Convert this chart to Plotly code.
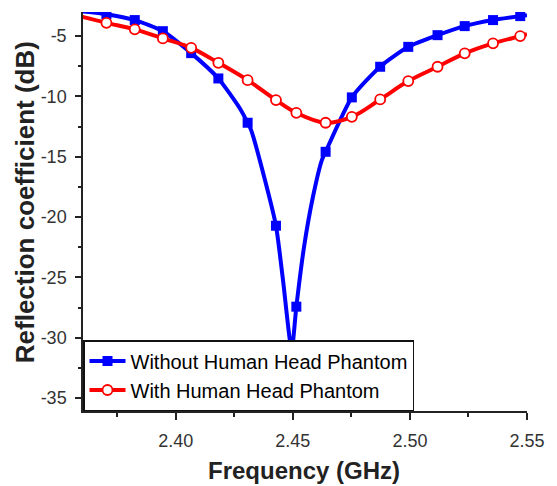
import plotly.graph_objects as go

# Marker positions (GHz), shared by both series
marker_freq = [2.3704, 2.3825, 2.3945, 2.4066, 2.4182, 2.4307, 2.4428, 2.4515,
               2.4640, 2.4752, 2.4873, 2.4993, 2.5118, 2.5234, 2.5355, 2.5471]

# Without phantom: curve samples (dB)
without_freq = [2.3600, 2.3704, 2.3825, 2.3945, 2.4066, 2.4182, 2.4274, 2.4307,
                2.4322, 2.4381, 2.4428, 2.4458, 2.4495, 2.4515, 2.4548, 2.4586,
                2.4624, 2.4640, 2.4752, 2.4873, 2.4993, 2.5118, 2.5234, 2.5355,
                2.5471, 2.5500]
without_s11 = [-2.95, -3.18, -3.67, -4.59, -6.41, -8.51, -11.00, -12.18,
               -12.79, -16.93, -20.72, -25.22, -31.02, -27.43, -22.46, -18.32,
               -15.28, -14.59, -10.08, -7.54, -5.89, -4.92, -4.17, -3.67,
               -3.34, -3.26]

# With phantom: curve samples (dB)
with_freq = [2.3600] + marker_freq + [2.5500]
with_s11 = [-3.40, -3.90, -4.44, -5.19, -5.97, -7.21, -8.65, -10.30, -11.36,
            -12.18, -11.69, -10.25, -8.73, -7.54, -6.43, -5.60, -5.00, -4.83]

x_ticks = [2.40, 2.45, 2.50, 2.55]
x_ticklabels = ["2.40", "2.45", "2.50", "2.55"]
y_ticks = [-5, -10, -15, -20, -25, -30, -35]
y_ticklabels = ["-5", "-10", "-15", "-20", "-25", "-30", "-35"]

x_range = [2.3604, 2.5500]
y_range = [-36.08, -3.0]

def marker_idx(xs):
    return [i for i, v in enumerate(xs) if any(abs(v - m) < 1e-6 for m in marker_freq)]

fig = go.Figure()
fig.add_trace(go.Scatter(
    x=without_freq, y=without_s11, mode="lines+markers",
    name="Without Human Head Phantom",
    line=dict(color="#0000FF", width=4, shape="spline", smoothing=0.6),
    marker=dict(symbol="square", size=10, color="#0000FF"),
    selectedpoints=marker_idx(without_freq),
    selected=dict(marker=dict(opacity=1)),
    unselected=dict(marker=dict(opacity=0)),
))
fig.add_trace(go.Scatter(
    x=with_freq, y=with_s11, mode="lines+markers",
    name="With Human Head Phantom",
    line=dict(color="#FF0000", width=4, shape="spline", smoothing=1),
    marker=dict(symbol="circle", size=10, color="white",
                line=dict(color="#FF0000", width=1.8)),
    selectedpoints=marker_idx(with_freq),
    selected=dict(marker=dict(opacity=1)),
    unselected=dict(marker=dict(opacity=0)),
))

tickfont = dict(family="Arial, Liberation Sans, sans-serif", size=18, color="#333333")
axis_line = dict(showline=True, linecolor="#222222", linewidth=1.5)

fig.update_layout(
    width=557, height=486,
    margin=dict(l=83, r=18, t=12, b=75),
    paper_bgcolor="white", plot_bgcolor="white",
    showlegend=True,
    legend=dict(x=0, y=0, xanchor="left", yanchor="bottom",
                bgcolor="white", bordercolor="#111111", borderwidth=1.5,
                font=dict(family="Arial, Liberation Sans, sans-serif", size=20, color="black"),
                itemwidth=36, tracegroupgap=0),
    xaxis=dict(range=x_range, tickvals=x_ticks, ticktext=x_ticklabels,
               ticks="outside", ticklen=7, tickwidth=1.5, tickcolor="#222222",
               minor=dict(dtick=0.025, tick0=2.375, ticks="outside", ticklen=4,
                          tickwidth=1.5, tickcolor="#222222"),
               showgrid=False, zeroline=False, tickfont=tickfont,
               ticklabelstandoff=6, **axis_line),
    yaxis=dict(range=y_range, tickvals=y_ticks, ticktext=y_ticklabels,
               ticks="outside", ticklen=6, tickwidth=1.5, tickcolor="#222222",
               minor=dict(dtick=2.5, tick0=0, ticks="outside", ticklen=3,
                          tickwidth=1.5, tickcolor="#222222"),
               showgrid=False, zeroline=False, tickfont=tickfont,
               ticklabelstandoff=5, **axis_line),
    xaxis2=dict(range=x_range, overlaying="x", side="top", tickvals=x_ticks,
                ticks="inside", ticklen=8, tickwidth=1.5, tickcolor="#222222",
                minor=dict(dtick=0.025, tick0=2.375, ticks="inside", ticklen=5,
                           tickwidth=1.5, tickcolor="#222222"),
                showticklabels=False, showgrid=False, zeroline=False, **axis_line),
    yaxis2=dict(range=y_range, overlaying="y", side="right", tickvals=y_ticks,
                ticks="inside", ticklen=6, tickwidth=1.5, tickcolor="#222222",
                minor=dict(dtick=2.5, tick0=0, ticks="inside", ticklen=5,
                           tickwidth=1.5, tickcolor="#222222"),
                showticklabels=False, showgrid=False, zeroline=False, **axis_line),
    annotations=[
        dict(text="<b>Frequency (GHz)</b>", xref="paper", yref="paper",
             x=0.498, y=-0.148, xanchor="center", yanchor="middle", showarrow=False,
             font=dict(family="Arial, Liberation Sans, sans-serif", size=24, color="#222222")),
        dict(text="<b>Reflection coefficient (dB)</b>", xref="paper", yref="paper",
             x=-0.129, y=0.5226, xanchor="center", yanchor="middle", showarrow=False,
             textangle=-90,
             font=dict(family="Arial, Liberation Sans, sans-serif", size=26, color="#222222")),
    ],
)

fig.write_html("out.html")
